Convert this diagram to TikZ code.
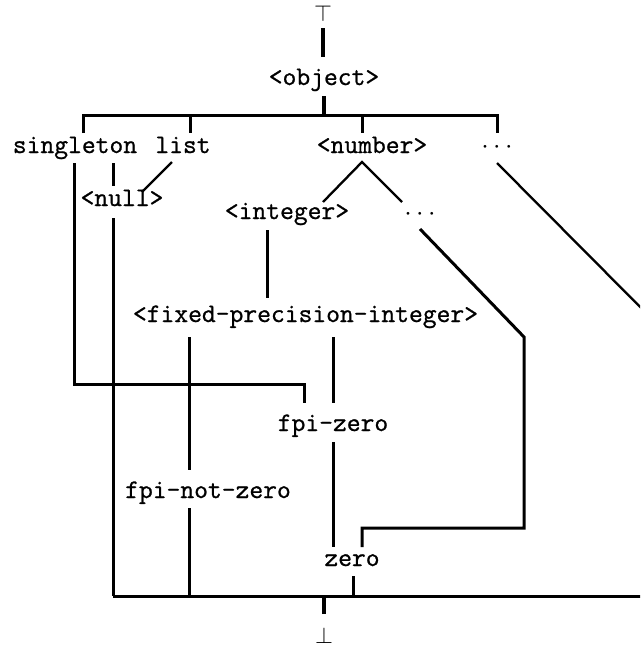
\RequirePackage{fix-cm}
\documentclass[tikz,border=0pt]{standalone}
\usepackage{fontspec}
\setmonofont{Latin Modern Mono}[FakeBold=0.9]
\begin{document}
\begin{tikzpicture}[x=1pt,y=-1pt,
  lbl/.style={inner sep=0pt, anchor=base, font=\fontsize{26.8}{30}\selectfont\ttfamily},
  sym/.style={inner sep=0pt, anchor=base, font=\fontsize{23}{27}\selectfont},
  link/.style={line width=3pt},
  heavy/.style={line width=4pt},
  slant/.style={line width=2.3pt}]
\useasboundingbox (0,0) rectangle (640,648);
\clip (0,0) rectangle (640,648);
% nodes
\node[sym] (top) at (323,21) {$\top$};
\node[lbl] (object) at (324,85) {<object>};
\node[lbl] (singleton) at (75,153) {singleton};
\node[lbl] (list) at (183,153) {list};
\node[lbl] (number) at (372,153) {<number>};
\node[lbl] (more) at (497,153) {$\cdots$};
\node[lbl] (null) at (122,206) {<null>};
\node[lbl] (integer) at (287,219) {<integer>};
\node[lbl] (morenum) at (420,220) {$\cdots$};
\node[lbl] (fpi) at (305.5,322) {<fixed-precision-integer>};
\node[lbl] (fpizero) at (333,431) {fpi-zero};
\node[lbl] (fpinz) at (208,498) {fpi-not-zero};
\node[lbl] (zero) at (352,566) {zero};
\node[sym] (bot) at (324,643) {$\bot$};
% connector end points
\coordinate (top-s) at (323,28);
\coordinate (obj-n) at (323,57);
\coordinate (obj-s) at (324,96);
\coordinate (bar-o) at (324,115);
\coordinate (bar-l) at (83,115);
\coordinate (bar-r) at (497,115);
\coordinate (sg-n) at (83,133);
\coordinate (li-n) at (190,133);
\coordinate (nu-n) at (362,133);
\coordinate (mo-n) at (497,133);
\coordinate (sg-s) at (74,163);
\coordinate (sg-c1) at (74,384);
\coordinate (sg-c2) at (304,384);
\coordinate (fz-nl) at (304,403);
\coordinate (li-s) at (172,162);
\coordinate (nl-ne) at (142,192);
\coordinate (nl-a) at (113,163);
\coordinate (nl-b) at (113,186);
\coordinate (nl-s) at (113,218);
\coordinate (nu-s) at (362,162);
\coordinate (in-n) at (323,202);
\coordinate (mn-n) at (402,202);
\coordinate (in-s) at (267,230);
\coordinate (fpi-n) at (267,298);
\coordinate (mn-s) at (420,229);
\coordinate (mn-c1) at (524,337);
\coordinate (mn-c2) at (524,528);
\coordinate (mn-c3) at (362,528);
\coordinate (ze-nr) at (362,547);
\coordinate (mo-s) at (497,163);
\coordinate (mo-out) at (670,337);
\coordinate (fpi-sl) at (189,337);
\coordinate (nz-n) at (189,470);
\coordinate (nz-s) at (189,508);
\coordinate (fpi-sr) at (333,337);
\coordinate (fz-n) at (333,403);
\coordinate (fz-s) at (333,442);
\coordinate (ze-nl) at (333,547);
\coordinate (ze-s) at (353,576);
\coordinate (bb-l) at (113,596);
\coordinate (bb-r) at (670,596);
\coordinate (bot-n) at (324,614);
% connectors
\draw[heavy] (top-s) -- (obj-n);
\draw[heavy] (obj-s) -- (bar-o);
\draw[link] (sg-n) -- (bar-l) -- (bar-r) -- (mo-n);
\draw[link] (li-n |- bar-l) -- (li-n);
\draw[link] (nu-n |- bar-l) -- (nu-n);
\draw[link] (sg-s) -- (sg-c1) -- (sg-c2) -- (fz-nl);
\draw[link] (nl-a) -- (nl-b);
\draw[slant] (li-s) -- (nl-ne);
\draw[link] (nl-s) -- (bb-l);
\draw[slant] (in-n) -- (nu-s) -- (mn-n);
\draw[link] (in-s) -- (fpi-n);
\draw[link] (mn-s) -- (mn-c1) -- (mn-c2) -- (mn-c3) -- (ze-nr);
\draw[slant] (mo-s) -- (mo-out);
\draw[link] (fpi-sl) -- (nz-n);
\draw[link] (nz-s) -- (nz-s |- bb-l);
\draw[link] (fpi-sr) -- (fz-n);
\draw[link] (fz-s) -- (ze-nl);
\draw[link] (ze-s) -- (ze-s |- bb-l);
\draw[link] (bb-l) -- (bb-r);
\draw[heavy] (bot-n) -- (bot-n |- bb-l);
\end{tikzpicture}
\end{document}
